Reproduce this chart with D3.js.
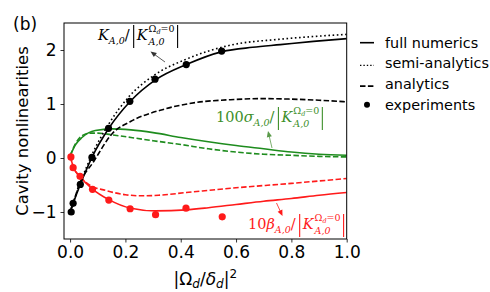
<!DOCTYPE html>
<html>
<head>
<meta charset="utf-8">
<script src="https://cdn.jsdelivr.net/npm/d3@7"></script>
<style>
  body { margin: 0; background: #fff; }
  svg { display: block; }
</style>
</head>
<body>
<div id="chart"></div>
<script>
// values (x = |Ωd/δd|^2)
var kExpX = [0.004, 0.011, 0.037, 0.079, 0.139, 0.216, 0.307, 0.42, 0.548];
var kExpY = [-1.0, -0.84, -0.49, 0.01, 0.55, 1.05, 1.46, 1.73, 1.98];
var bExpX = [0.003, 0.011, 0.036, 0.081, 0.14, 0.217, 0.309, 0.419, 0.55];
var bExpY = [0.02, -0.18, -0.34, -0.58, -0.78, -0.94, -1.05, -0.93, -1.09];

var kFullX = [0, 0.011, 0.037, 0.08, 0.14, 0.218, 0.31, 0.42, 0.55, 0.66, 0.76, 0.88, 1.0];
var kFullY = [-1.0, -0.84, -0.49, 0.02, 0.55, 1.05, 1.45, 1.73, 1.97, 2.05, 2.1, 2.16, 2.21];
var kSemiX = [0, 0.011, 0.037, 0.08, 0.14, 0.21, 0.3, 0.42, 0.58, 0.76, 0.88, 1.0];
var kSemiY = [-1.0, -0.83, -0.46, 0.07, 0.63, 1.12, 1.52, 1.83, 2.09, 2.2, 2.25, 2.29];
var kAnaX = [0, 0.011, 0.031, 0.086, 0.152, 0.22, 0.337, 0.458, 0.58, 0.7, 0.8, 0.9, 1.0];
var kAnaY = [-1.0, -0.84, -0.52, -0.06, 0.45, 0.68, 0.9, 1.03, 1.08, 1.1, 1.09, 1.07, 1.04];

var sFullX = [0, 0.02, 0.043, 0.091, 0.152, 0.22, 0.3, 0.4, 0.5, 0.6, 0.7, 0.8, 0.9, 1.0];
var sFullY = [0.04, 0.25, 0.38, 0.51, 0.54, 0.52, 0.47, 0.38, 0.3, 0.23, 0.17, 0.11, 0.07, 0.05];
var sAnaX = [0, 0.02, 0.04, 0.07, 0.1, 0.15, 0.22, 0.3, 0.4, 0.5, 0.6, 0.7, 0.8, 0.9, 1.0];
var sAnaY = [0.04, 0.27, 0.4, 0.46, 0.46, 0.43, 0.38, 0.32, 0.25, 0.17, 0.11, 0.07, 0.05, 0.03, 0.02];

var bFullX = [0, 0.013, 0.037, 0.08, 0.14, 0.22, 0.31, 0.42, 0.5, 0.6, 0.7, 0.8, 0.9, 1.0];
var bFullY = [0.04, -0.18, -0.35, -0.57, -0.77, -0.93, -0.98, -0.96, -0.92, -0.86, -0.8, -0.75, -0.69, -0.64];
var bAnaX = [0, 0.013, 0.037, 0.07, 0.128, 0.2, 0.26, 0.32, 0.42, 0.58, 0.8, 1.0];
var bAnaY = [0.04, -0.18, -0.35, -0.5, -0.6, -0.68, -0.7, -0.69, -0.64, -0.56, -0.47, -0.38];

var xTicks = [0, 0.2, 0.4, 0.6, 0.8, 1.0];
var yTicks = [-1, 0, 1, 2];
var legendLabels = ["full numerics", "semi-analytics", "analytics", "experiments"];

var width = 490, height = 292;
var pLeft = 64, pRight = 346.7, pTop = 23, pBottom = 239;
var BLACK = "#000", GREEN = "#1e8c1e", RED = "#ff1a1a";

var svg = d3.select("#chart").append("svg")
.attr("width", width)
.attr("height", height);

var x = d3.scaleLinear().domain([-0.022, 1.0]).range([pLeft, pRight]);
var y = d3.scaleLinear().domain([-1.5, 2.5]).range([pBottom, pTop]);

svg.append("defs").append("clipPath").attr("id", "plotclip")
.append("rect").attr("x", pLeft).attr("y", pTop).attr("width", pRight - pLeft).attr("height", pBottom - pTop);

var plot = svg.append("g").attr("clip-path", "url(#plotclip)");

var line = d3.line()
.x(function(d) { return x(d[0]); })
.y(function(d) { return y(d[1]); })
.curve(d3.curveMonotoneX);

function zip(a, b) { return a.map(function(v, i) { return [v, b[i]]; }); }

function drawLine(xs, ys, color, dash) {
	plot.append("path")
	.datum(zip(xs, ys))
	.attr("d", line)
	.attr("fill", "none")
	.attr("stroke", color)
	.attr("stroke-width", 1.6)
	.attr("stroke-dasharray", dash || null);
}

var DOT = "1.6,2.6", DASH = "5.5,2.4";

drawLine(sAnaX, sAnaY, GREEN, DASH);
drawLine(sFullX, sFullY, GREEN);
drawLine(bAnaX, bAnaY, RED, DASH);
drawLine(bFullX, bFullY, RED);
drawLine(kAnaX, kAnaY, BLACK, DASH);
drawLine(kSemiX, kSemiY, BLACK, DOT);
drawLine(kFullX, kFullY, BLACK);

plot.selectAll("circle.b").data(zip(bExpX, bExpY)).enter().append("circle")
.attr("cx", function(d) { return x(d[0]); })
.attr("cy", function(d) { return y(d[1]); })
.attr("r", 3.6).attr("fill", RED);

plot.selectAll("circle.k").data(zip(kExpX, kExpY)).enter().append("circle")
.attr("cx", function(d) { return x(d[0]); })
.attr("cy", function(d) { return y(d[1]); })
.attr("r", 3.6).attr("fill", BLACK);

// axes
var xAxis = svg.append("g").attr("transform", "translate(0," + pBottom + ")")
.call(d3.axisBottom(x).tickValues(xTicks).tickFormat(d3.format(".1f")).tickSize(3.5).tickPadding(3));
var yAxis = svg.append("g").attr("transform", "translate(" + pLeft + ",0)")
.call(d3.axisLeft(y).tickValues(yTicks).tickFormat(function(d) { return d < 0 ? "\u2212" + Math.abs(d) : d; }).tickSize(3.5).tickPadding(4));

[xAxis, yAxis].forEach(function(a) {
	a.select(".domain").remove();
	a.selectAll("line").attr("stroke", "#000").attr("stroke-width", 0.8);
	a.selectAll("text").attr("font-family", "DejaVu Sans").attr("font-size", 17).attr("fill", "#000");
});

svg.append("rect")
.attr("x", pLeft).attr("y", pTop).attr("width", pRight - pLeft).attr("height", pBottom - pTop)
.attr("fill", "none").attr("stroke", "#000").attr("stroke-width", 1);

// axis labels
svg.append("text")
.attr("transform", "translate(28," + ((pTop + pBottom) / 2) + ") rotate(-90)")
.attr("text-anchor", "middle")
.attr("font-family", "DejaVu Sans").attr("font-size", 16.5)
.text("Cavity nonlinearities");

var xl = svg.append("text")
.attr("x", (pLeft + pRight) / 2).attr("y", 285)
.attr("text-anchor", "middle")
.attr("font-family", "DejaVu Sans").attr("font-size", 17);
xl.append("tspan").text("|\u03a9");
xl.append("tspan").attr("font-size", 12).attr("font-style", "italic").attr("dy", 3).text("d");
xl.append("tspan").attr("dy", -3).text("/");
xl.append("tspan").attr("font-style", "italic").text("\u03b4");
xl.append("tspan").attr("font-size", 12).attr("font-style", "italic").attr("dy", 3).text("d");
xl.append("tspan").attr("dy", -3).text("|");
xl.append("tspan").attr("font-size", 12).attr("dy", -7).text("2");

svg.append("text")
.attr("x", 13).attr("y", 30)
.attr("font-family", "DejaVu Sans").attr("font-size", 17)
.text("(b)");

// annotations
function put(g, px, py, t, size, italic, color) {
	var el = g.append("text")
	.attr("x", px).attr("y", py)
	.attr("font-family", "DejaVu Serif")
	.attr("font-size", size)
	.attr("font-style", italic ? "italic" : "normal")
	.attr("fill", color)
	.text(t);
	return el.node().getComputedTextLength();
}

function bar(g, px, py, color) {
	g.append("line")
	.attr("x1", px).attr("x2", px)
	.attr("y1", py - 15).attr("y2", py + 8)
	.attr("stroke", color).attr("stroke-width", 1.1);
}

function normLabel(px, py, color, lead) {
	var g = svg.append("g");
	var cx = px;
	lead.forEach(function(p) {
		cx += put(g, cx, py + (p.dy || 0), p.t, p.s, p.it, color);
	});
	cx += 4;
	bar(g, cx, py, color);
	cx += 3;
	cx += put(g, cx, py, "K", 14.5, true, color) + 1;
	var w1 = put(g, cx, py - 8, "\u03a9", 9.5, false, color);
	var w2 = put(g, cx + w1, py - 6, "d", 6.5, true, color);
	var w3 = put(g, cx + w1 + w2, py - 8, "=0", 9.5, false, color);
	var w4 = put(g, cx, py + 4.5, "A,0", 9.5, true, color);
	cx += Math.max(w1 + w2 + w3, w4) + 3;
	bar(g, cx, py, color);
}

normLabel(98, 40, BLACK, [
	{t: "K", s: 14.5, it: true},
	{t: "A,0", s: 9.5, it: true, dy: 4},
	{t: "/", s: 14.5}
]);
normLabel(216, 122, "#3d8f2a", [
	{t: "100", s: 14.5},
	{t: "\u03c3", s: 14.5, it: true},
	{t: "A,0", s: 9.5, it: true, dy: 4},
	{t: "/", s: 14.5}
]);
normLabel(248, 229, RED, [
	{t: "10", s: 14.5},
	{t: "\u03b2", s: 14.5, it: true},
	{t: "A,0", s: 9.5, it: true, dy: 4},
	{t: "/", s: 14.5}
]);

// arrows
function arrow(x1, y1, x2, y2, color, w) {
	var a = Math.atan2(y2 - y1, x2 - x1), L = 6, H = 2.6;
	svg.append("line")
	.attr("x1", x1).attr("y1", y1)
	.attr("x2", x2 - L * 0.8 * Math.cos(a)).attr("y2", y2 - L * 0.8 * Math.sin(a))
	.attr("stroke", color).attr("stroke-width", w);
	var bx = x2 - L * Math.cos(a), by = y2 - L * Math.sin(a);
	svg.append("path")
	.attr("d", "M" + x2 + "," + y2 +
		"L" + (bx + H * Math.sin(a)) + "," + (by - H * Math.cos(a)) +
		"L" + (bx - H * Math.sin(a)) + "," + (by + H * Math.cos(a)) + "Z")
	.attr("fill", color);
}
arrow(165, 62, 150.5, 51.5, "#333", 0.8);
arrow(272, 148, 268, 131, "#5a9a4a", 0.8);
arrow(276.5, 203, 282.5, 216, RED, 0.8);

// legend
var leg = svg.append("g");
var legY = [42.7, 63.4, 84.1, 104.8];
legendLabels.forEach(function(t, i) {
	leg.append("text")
	.attr("x", 385).attr("y", legY[i] + 5)
	.attr("font-family", "DejaVu Sans").attr("font-size", 14.4)
	.text(t);
});
leg.append("line").attr("x1", 360).attr("x2", 374).attr("y1", legY[0]).attr("y2", legY[0])
.attr("stroke", "#000").attr("stroke-width", 1.6);
leg.append("line").attr("x1", 360).attr("x2", 374).attr("y1", legY[1] + 2).attr("y2", legY[1] + 2)
.attr("stroke", "#000").attr("stroke-width", 1.4).attr("stroke-dasharray", "1.4,2");
leg.append("line").attr("x1", 360).attr("x2", 374).attr("y1", legY[2] + 2).attr("y2", legY[2] + 2)
.attr("stroke", "#000").attr("stroke-width", 1.6).attr("stroke-dasharray", "5.5,2.4");
leg.append("circle").attr("cx", 367).attr("cy", legY[3]).attr("r", 3).attr("fill", "#000");
</script>
</body>
</html>
